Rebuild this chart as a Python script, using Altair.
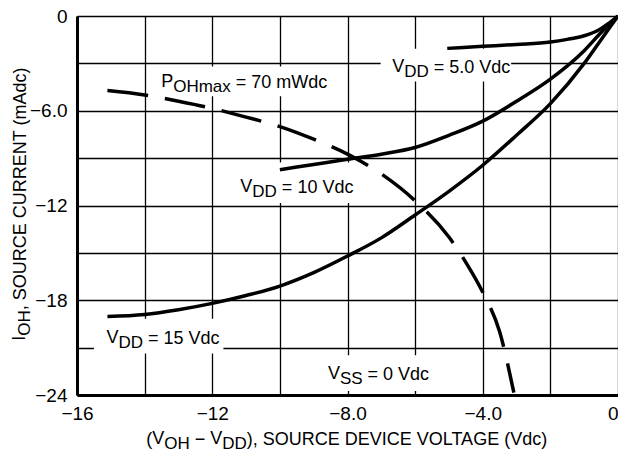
import altair as alt
import pandas as pd

# ---------------- data ----------------
vdd5_x = [-5.05, -4.0, -3.0, -2.0, -1.5, -1.0, -0.6, -0.3, 0.0]
vdd5_y = [-2.05, -1.92, -1.80, -1.65, -1.48, -1.25, -0.92, -0.50, 0.0]

vdd10_x = [-10.0, -9.0, -8.0, -7.0, -6.0, -5.0, -4.0, -3.0, -2.0, -1.0, -0.5, 0.0]
vdd10_y = [-9.73, -9.40, -9.07, -8.75, -8.33, -7.56, -6.66, -5.40, -4.00, -2.20, -1.05, 0.0]

vdd15_x = [-15.1, -14.0, -13.0, -12.0, -11.0, -10.0, -9.0, -8.0, -7.0, -6.0,
           -5.0, -4.0, -3.0, -2.0, -1.0, -0.5, 0.0]
vdd15_y = [-19.03, -18.90, -18.60, -18.20, -17.70, -17.10, -16.25, -15.20, -14.05, -12.60,
           -11.10, -9.45, -7.55, -5.55, -3.00, -1.50, 0.0]

pmax_x = [-15.1, -14.0, -13.0, -12.0, -11.0, -10.0, -9.0, -8.0, -7.0, -6.0,
          -5.0, -4.5, -4.0, -3.5, -3.08]
pmax_y = [-4.72, -5.00, -5.40, -5.85, -6.40, -7.00, -7.80, -8.75, -10.0, -11.7,
          -14.0, -15.6, -17.5, -20.0, -23.85]

x_grid = [-16, -14, -12, -10, -8, -6, -4, -2, 0]
y_grid = [-24, -21, -18, -15, -12, -9, -6, -3, 0]
x_tick_values = [-16, -12, -8, -4, 0]
x_tick_labels = ["\u221216", "\u221212", "\u22128.0", "\u22124.0", "0"]
y_tick_values = [0, -6, -12, -18, -24]
y_tick_labels = ["0", "\u22126.0", "\u221212", "\u221218", "\u221224"]

# in-plot labels (anchor = left end of baseline, data coordinates)
lbl_x = [-6.68, -13.51, -11.17, -15.13, -8.58]
lbl_y = [-3.63, -4.57, -11.22, -20.80, -23.06]
lbl_main = ["V", "P", "V", "V", "V"]
lbl_sub = ["DD", "OHmax", "DD", "DD", "SS"]
lbl_rest = [" = 5.0 Vdc", " = 70 mWdc", " = 10 Vdc", " = 15 Vdc", " = 0 Vdc"]
# white backgrounds behind the labels
box_x1 = [-7.02, -13.75, -11.32, -15.50, -8.78]
box_x2 = [-3.16, -8.48, -7.69, -11.67, -5.50]
box_y1 = [-2.07, -3.20, -9.27, -19.17, -21.49]
box_y2 = [-4.14, -5.08, -11.84, -21.37, -23.75]

x_title_pieces = [("(", "main"), ("V", "cap"), ("OH", "sub"), (" \u2212 ", "main"),
                  ("V", "cap"), ("DD", "sub"), ("), SOURCE DEVICE VOLTAGE (Vdc)", "main")]
y_title_pieces = [("I", "cap"), ("OH", "sub"), (", SOURCE CURRENT (mAdc)", "main")]

# ---------------- styling ----------------
FONT = "Liberation Sans, Arial, Helvetica"
MAIN = 18
SUB = 17
TICK = 19
PAD_L, PAD_T, PAD_R, PAD_B = 69, 8, 0, 57
W, H = 541, 379

AW = {' ': 278, '=': 584, '.': 278, 'V': 667, 'D': 722, 'O': 778, 'H': 722, 'S': 667,
      'P': 667, 'm': 833, 'a': 556, 'x': 500, 'W': 944, 'd': 556, 'c': 500,
      '\u2212': 584, '(': 333, ')': 333, ',': 278, 'U': 722, 'R': 722, 'C': 722,
      'E': 667, 'T': 611, 'I': 278, 'N': 722, 'L': 556, 'G': 778, 'A': 667}


def tw(s, size):
    return sum(AW.get(c, 556) for c in s) / 1000.0 * size


def size_of(kind):
    return SUB if kind == "sub" else MAIN


DY = {"sub": 4, "cap": -1.5, "main": 0}


def expr_map(vals, labels):
    e = "''"
    for v, l in reversed(list(zip(vals, labels))):
        e = f"datum.value == {v} ? '{l}' : {e}"
    return e


x_axis = alt.Axis(values=x_grid, grid=True, gridColor="black", gridWidth=1.3, gridOpacity=1,
                  domainColor="black", domainWidth=3, ticks=False, tickSize=0,
                  labelExpr=expr_map(x_tick_values, x_tick_labels), labelFont=FONT,
                  labelFontSize=TICK, labelColor="black", labelPadding=9,
                  labelOverlap=False, labelFlush=False,
                  labelAlign={"condition": {"test": "datum.value === 0", "value": "right"},
                              "value": "center"})
y_axis = alt.Axis(values=y_grid, grid=True, gridColor="black", gridWidth=1.3, gridOpacity=1,
                  domainColor="black", domainWidth=3, ticks=False, tickSize=0,
                  labelExpr=expr_map(y_tick_values, y_tick_labels), labelFont=FONT,
                  labelFontSize=TICK, labelColor="black", labelPadding=10,
                  labelOverlap=False, labelFlush=False)

XS = alt.Scale(domain=[-16, 0], nice=False, zero=False)
YS = alt.Scale(domain=[-24, 0], nice=False, zero=False)


def X(f):
    return alt.X(f"{f}:Q", scale=XS, axis=x_axis, title=None)


def Y(f):
    return alt.Y(f"{f}:Q", scale=YS, axis=y_axis, title=None)


# curves
rows = []
for name, xs, ys in [("5", vdd5_x, vdd5_y), ("10", vdd10_x, vdd10_y), ("15", vdd15_x, vdd15_y)]:
    for i, (a, b) in enumerate(zip(xs, ys)):
        rows.append({"series": name, "i": i, "x": a, "y": b})
solid_df = pd.DataFrame(rows)
dash_df = pd.DataFrame({"i": range(len(pmax_x)), "x": pmax_x, "y": pmax_y})
box_df = pd.DataFrame({"x": box_x1, "x2": box_x2, "y": box_y1, "y2": box_y2})

layers = []
layers.append(alt.Chart(box_df).mark_rect(color="white").encode(
    x=X("x"), x2="x2", y=Y("y"), y2="y2"))
layers.append(alt.Chart(solid_df).mark_line(color="black", strokeWidth=3.5,
                                            interpolate="monotone").encode(
    x=X("x"), y=Y("y"), detail="series:N", order="i:Q"))
layers.append(alt.Chart(dash_df).mark_line(color="black", strokeWidth=3.5, strokeCap="butt",
                                           strokeDash=[41, 17],
                                           interpolate="monotone").encode(
    x=X("x"), y=Y("y"), order="i:Q"))

# in-plot labels
for ax, ay, m, s, r in zip(lbl_x, lbl_y, lbl_main, lbl_sub, lbl_rest):
    off = 0.0
    for txt, kind in [(m, "cap"), (s, "sub"), (r, "main")]:
        size = size_of(kind)
        lead = len(txt) - len(txt.lstrip(" "))
        start = off + tw(" " * lead, size)
        df = pd.DataFrame({"x": [ax], "y": [ay], "t": [txt.strip()]})
        layers.append(alt.Chart(df).mark_text(
            align="left", baseline="alphabetic", font=FONT, fontSize=size,
            dx=start, dy=DY[kind], color="black").encode(x=X("x"), y=Y("y"), text="t:N"))
        off += tw(txt, size)


def title_layers(pieces, px, py, angle, center):
    out = []
    total = sum(tw(t, size_of(k)) for t, k in pieces)
    off = 0.0
    for txt, kind in pieces:
        size = size_of(kind)
        lead = len(txt) - len(txt.lstrip(" "))
        start = off + tw(" " * lead, size)
        df = pd.DataFrame({"t": [txt.strip()]})
        if angle:
            xv, yv = px, center + total / 2
        else:
            xv, yv = center - total / 2, py
        out.append(alt.Chart(df).mark_text(
            align="left", baseline="alphabetic", font=FONT, fontSize=size,
            dx=start, dy=DY[kind], angle=angle, color="black").encode(
            x=alt.value(xv), y=alt.value(yv), text="t:N"))
        off += tw(txt, size)
    return out


layers += title_layers(x_title_pieces, None, 429, 0, 271)
layers += title_layers(y_title_pieces, -51, None, 270, 188)

chart = alt.layer(*layers).properties(
    width=W, height=H,
    autosize=alt.AutoSizeParams(type="none"),
    padding={"left": PAD_L, "top": PAD_T, "right": PAD_R, "bottom": PAD_B},
    background="white",
).configure_view(strokeOpacity=0)

chart.save("out.html", embed_options={"renderer": "svg", "actions": False})
